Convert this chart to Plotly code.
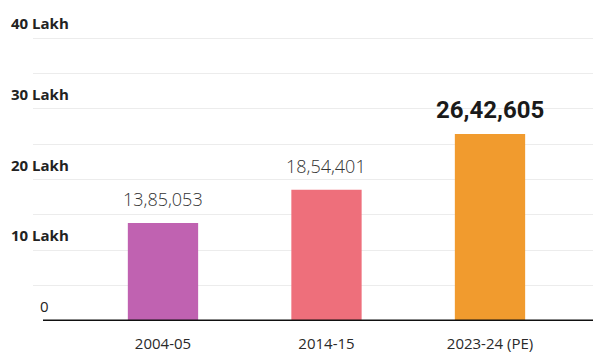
import plotly.graph_objects as go

categories = ["2004-05", "2014-15", "2023-24 (PE)"]
values = [1385053, 1854401, 2642605]
value_labels = ["13,85,053", "18,54,401", "26,42,605"]
bar_colors = ["#C062B1", "#EE6F7B", "#F19B2E"]
y_tick_vals = [0, 1000000, 2000000, 3000000, 4000000]
y_tick_text = ["0", "10 Lakh", "20 Lakh", "30 Lakh", "40 Lakh"]

fig = go.Figure()
fig.add_trace(go.Bar(
    x=list(range(len(categories))), y=values,
    marker=dict(color=bar_colors, line=dict(width=0)),
    width=0.43, hoverinfo="skip",
))

# value labels
for i, (v, t) in enumerate(zip(values, value_labels)):
    last = i == len(values) - 1
    fig.add_annotation(
        x=i, y=v, xref="x", yref="y", text=t, showarrow=False,
        yanchor="bottom", yshift=(8 if last else 10),
        font=dict(family="Roboto" if last else "Open Sans",
                  size=(24 if last else 18),
                  color="#1a1a1a" if last else "#333333",
                  weight=("bold" if last else 300)),
    )

# y labels
for v, t in zip(y_tick_vals, y_tick_text):
    fig.add_annotation(
        x=0, y=v, xref="paper", yref="y", text=t, showarrow=False,
        xanchor="left", yanchor="middle",
        xshift=(5 if t == "0" else -24), yshift=15,
        font=dict(family="Open Sans", size=(15 if t != "0" else 15),
                  color="#222222", weight=("bold" if t != "0" else "normal")),
    )

# baseline
fig.add_shape(type="line", xref="paper", yref="y", x0=10/560, x1=1, y0=0, y1=0,
              line=dict(color="#111111", width=3))

fig.update_layout(
    width=593, height=353,
    margin=dict(l=33, r=0, t=36, b=26),
    paper_bgcolor="white", plot_bgcolor="white",
    showlegend=False,
    xaxis=dict(range=[-0.795, 2.63], tickvals=list(range(len(categories))),
               ticktext=categories, showgrid=False, zeroline=False, showline=False,
               ticks="", ticklabelstandoff=12,
               tickfont=dict(family="Open Sans", size=15, color="#2a2a2a")),
    yaxis=dict(range=[0, 4030000], dtick=500000, showgrid=True, gridcolor="#ececec",
               gridwidth=1, zeroline=False, showticklabels=False, showline=False),
)

fig.write_html("out.html")
